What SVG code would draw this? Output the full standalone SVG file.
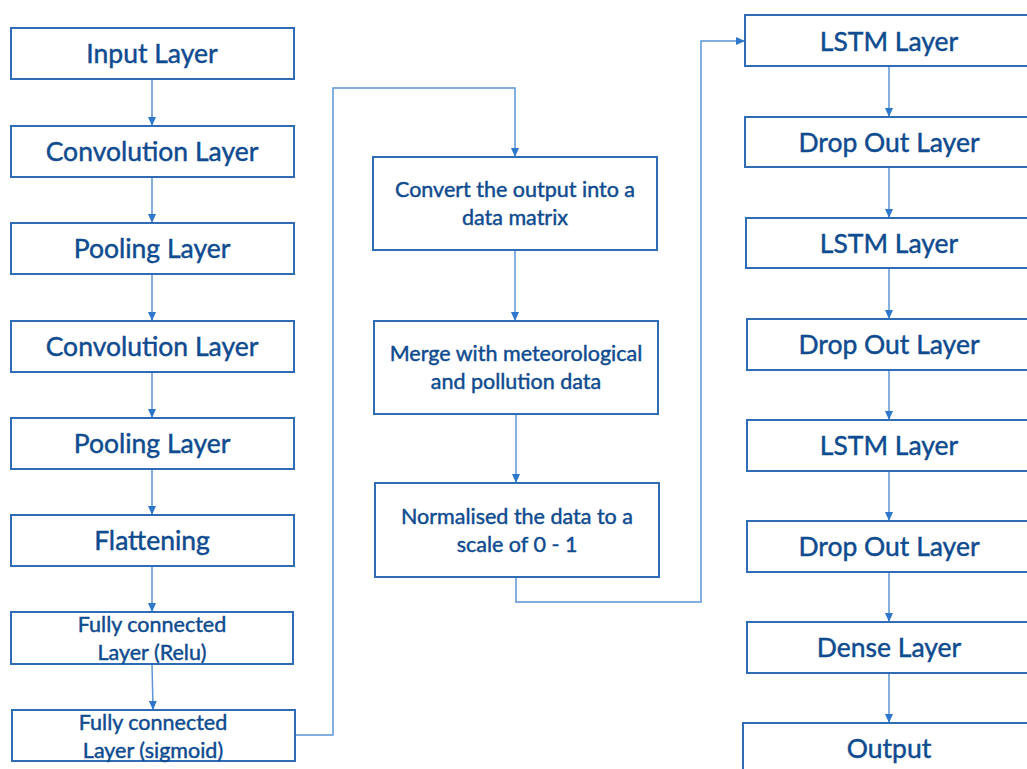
<svg xmlns="http://www.w3.org/2000/svg" width="1027" height="769" viewBox="0 0 1027 769">
<defs>
<style>
.box{fill:#fff;stroke:#2e6cb5;stroke-width:2}
.t{font-family:Lato,"Liberation Sans",sans-serif;fill:#0f4b8f;stroke:#0f4b8f;stroke-width:0.45;text-anchor:middle}
.l{font-size:26.5px}
.m{font-size:21.5px}
.s{font-size:21.5px}
.c{fill:none;stroke:#5b95d6;stroke-width:1.5}
</style>
<marker id="a" markerWidth="10" markerHeight="10" refX="8" refY="5" orient="auto" markerUnits="userSpaceOnUse">
<path d="M0,1 L9,5 L0,9 Z" fill="#2e78cc"/>
</marker>
</defs>
<rect width="1027" height="769" fill="#fff"/>
<g id="connectors">
<line class="c" x1="152" y1="79" x2="152" y2="125" marker-end="url(#a)"/>
<line class="c" x1="152" y1="177" x2="152" y2="222" marker-end="url(#a)"/>
<line class="c" x1="152" y1="274" x2="152" y2="320" marker-end="url(#a)"/>
<line class="c" x1="152" y1="372" x2="152" y2="417" marker-end="url(#a)"/>
<line class="c" x1="152" y1="469" x2="152" y2="514" marker-end="url(#a)"/>
<line class="c" x1="152" y1="566" x2="152" y2="611" marker-end="url(#a)"/>
<line class="c" x1="152" y1="664" x2="153" y2="709" marker-end="url(#a)"/>
<polyline class="c" points="295,735 333,735 333,88 515,88 515,156" marker-end="url(#a)"/>
<line class="c" x1="515" y1="250" x2="515" y2="320" marker-end="url(#a)"/>
<line class="c" x1="516" y1="414" x2="516" y2="482" marker-end="url(#a)"/>
<polyline class="c" points="516,577 516,602 701,602 701,41 744,41" marker-end="url(#a)"/>
<line class="c" x1="889" y1="66" x2="889" y2="116" marker-end="url(#a)"/>
<line class="c" x1="889" y1="167" x2="889" y2="217" marker-end="url(#a)"/>
<line class="c" x1="889" y1="268" x2="889" y2="318" marker-end="url(#a)"/>
<line class="c" x1="889" y1="370" x2="889" y2="419" marker-end="url(#a)"/>
<line class="c" x1="889" y1="471" x2="889" y2="520" marker-end="url(#a)"/>
<line class="c" x1="889" y1="572" x2="889" y2="621" marker-end="url(#a)"/>
<line class="c" x1="889" y1="673" x2="889" y2="722" marker-end="url(#a)"/>
</g>
<g id="n1"><rect class="box" x="11" y="28" width="283" height="51"/><text class="t l" x="152" y="63">Input Layer</text></g>
<g id="n2"><rect class="box" x="11" y="126" width="283" height="51"/><text class="t l" x="152" y="161">Convolution Layer</text></g>
<g id="n3"><rect class="box" x="11" y="223" width="283" height="51"/><text class="t l" x="152" y="258">Pooling Layer</text></g>
<g id="n4"><rect class="box" x="11" y="321" width="283" height="51"/><text class="t l" x="152" y="356">Convolution Layer</text></g>
<g id="n5"><rect class="box" x="11" y="418" width="283" height="51"/><text class="t l" x="152" y="453">Pooling Layer</text></g>
<g id="n6"><rect class="box" x="11" y="515" width="283" height="51"/><text class="t l" x="152" y="550">Flattening</text></g>
<g id="n7"><rect class="box" x="11" y="612" width="282" height="52"/><text class="t s" x="152" y="632">Fully connected</text><text class="t s" x="152" y="660">Layer (Relu)</text></g>
<g id="n8"><rect class="box" x="12" y="710" width="283" height="51"/><text class="t s" x="153" y="730">Fully connected</text><text class="t s" x="153" y="758">Layer (sigmoid)</text></g>
<g id="m1"><rect class="box" x="373" y="157" width="284" height="93"/><text class="t m" x="515" y="197">Convert the output into a</text><text class="t m" x="515" y="225">data matrix</text></g>
<g id="m2"><rect class="box" x="374" y="321" width="284" height="93"/><text class="t m" x="516" y="361">Merge with meteorological</text><text class="t m" x="516" y="389">and pollution data</text></g>
<g id="m3"><rect class="box" x="375" y="483" width="284" height="94"/><text class="t m" x="517" y="524">Normalised the data to a</text><text class="t m" x="517" y="552">scale of 0 - 1</text></g>
<g id="r1"><rect class="box" x="745" y="15" width="290" height="51"/><text class="t l" x="889" y="51">LSTM Layer</text></g>
<g id="r2"><rect class="box" x="745" y="117" width="290" height="50"/><text class="t l" x="889" y="152">Drop Out Layer</text></g>
<g id="r3"><rect class="box" x="746" y="218" width="290" height="50"/><text class="t l" x="889" y="253">LSTM Layer</text></g>
<g id="r4"><rect class="box" x="747" y="319" width="290" height="51"/><text class="t l" x="889" y="354">Drop Out Layer</text></g>
<g id="r5"><rect class="box" x="747" y="420" width="290" height="51"/><text class="t l" x="889" y="455">LSTM Layer</text></g>
<g id="r6"><rect class="box" x="747" y="521" width="290" height="51"/><text class="t l" x="889" y="556">Drop Out Layer</text></g>
<g id="r7"><rect class="box" x="747" y="622" width="290" height="51"/><text class="t l" x="889" y="657">Dense Layer</text></g>
<g id="r8"><rect class="box" x="743" y="723" width="294" height="60"/><text class="t l" x="889" y="758">Output</text></g>
</svg>
